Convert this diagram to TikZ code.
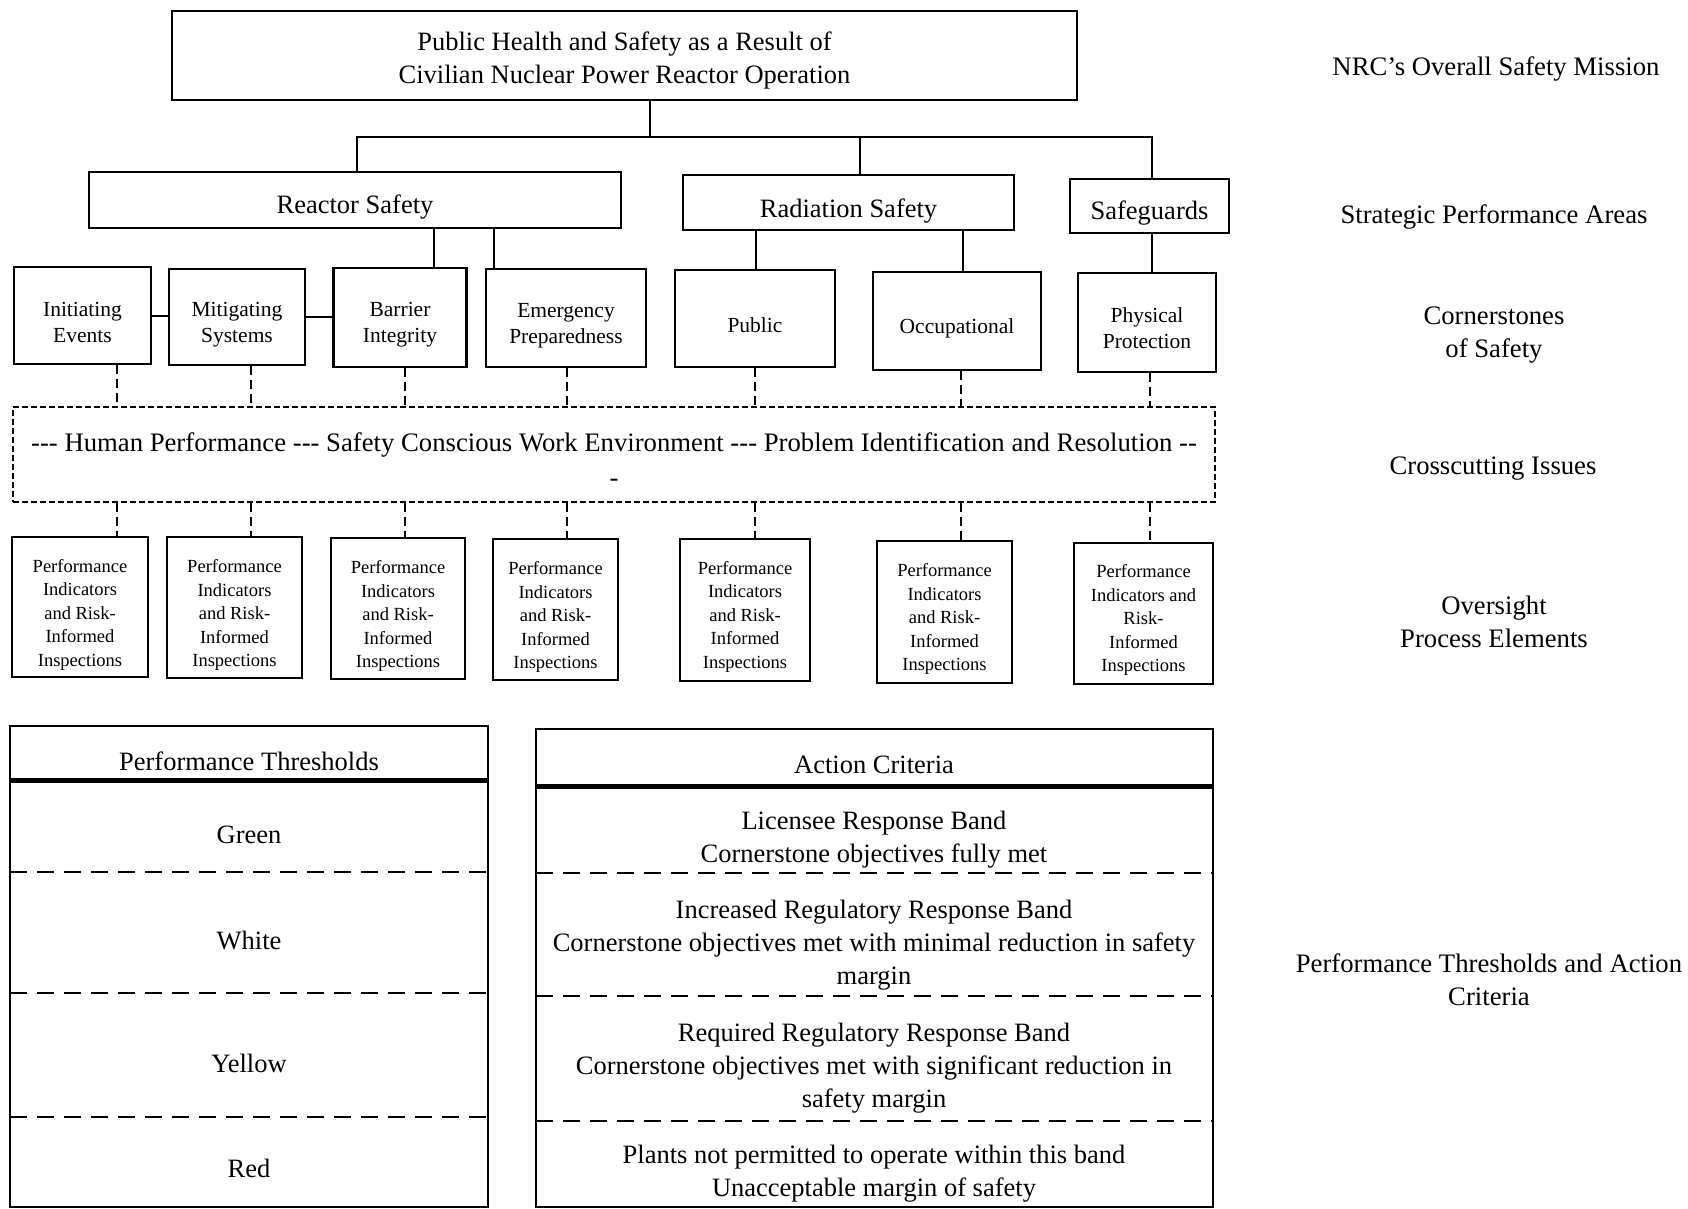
\documentclass[tikz,border=0pt]{standalone}
\usepackage{fontspec}
\setmainfont{Liberation Serif}
\newcommand{\fmain}{\fontsize{26.5pt}{33pt}\selectfont}
\newcommand{\flab}{\fontsize{26.7pt}{33pt}\selectfont}
\newcommand{\fcc}{\fontsize{26.7pt}{35pt}\selectfont}
\newcommand{\fcs}{\fontsize{21.5pt}{26pt}\selectfont}
\newcommand{\fpi}{\fontsize{18.5pt}{23.5pt}\selectfont}
\newcommand{\tdash}{-\kern0pt-\kern0pt-}
\newcommand{\ddash}{-\kern0pt-}
\begin{document}
\begin{tikzpicture}[x=1pt,y=-1pt,
  box/.style={draw, line width=2.7pt, inner sep=0pt},
  txt/.style={inner sep=0pt, align=center},
  conn/.style={line width=2pt},
  dconn/.style={line width=2pt, dash pattern=on 9pt off 5pt},
  dbox/.style={draw, line width=2.5pt, dash pattern=on 6pt off 3pt, inner sep=0pt},
  tbl/.style={draw, line width=2.7pt, inner sep=0pt},
  tdash/.style={line width=2.7pt, dash pattern=on 17pt off 10pt},
  hdr/.style={line width=5pt},
  lbl/.style={font=\flab, align=center, inner sep=0pt},
]
\useasboundingbox (0,0) rectangle (1688,1208);

% mission
\node[box, minimum width=905pt, minimum height=89pt] (top) at (624.5,55.5) {};
\node[txt, font=\fmain, yshift=-5pt] (topt) at (top)
  {Public Health and Safety as a Result of\\Civilian Nuclear Power Reactor Operation};

% strategic areas
\node[box, minimum width=532pt, minimum height=56pt] (rs) at (355,200) {};
\node[txt, font=\fmain, yshift=-7.5pt] (rst) at (rs) {Reactor Safety};
\node[box, minimum width=331pt, minimum height=55pt] (rad) at (848.5,202.5) {};
\node[txt, font=\fmain, yshift=-9pt] (radt) at (rad) {Radiation Safety};
\node[box, minimum width=159pt, minimum height=54pt] (sg) at (1149.5,206) {};
\node[txt, font=\fmain, yshift=-7.5pt] (sgt) at (sg) {Safeguards};

% cornerstones
\node[box, minimum width=137pt, minimum height=97pt] (ie) at (82.5,315.5) {};
\node[txt, font=\fcs, yshift=-6.5pt] (iet) at (ie) {Initiating\\Events};
\node[box, minimum width=136pt, minimum height=96pt] (ms) at (237,317) {};
\node[txt, font=\fcs, yshift=-7.5pt] (mst) at (ms) {Mitigating\\Systems};
\node[box, minimum width=133pt, minimum height=99pt] (bi) at (400,317.5) {};
\node[txt, font=\fcs, yshift=-7.5pt] (bit) at (bi) {Barrier\\Integrity};
\node[box, minimum width=160pt, minimum height=98pt] (ep) at (566,318) {};
\node[txt, font=\fcs, yshift=-7.5pt] (ept) at (ep) {Emergency\\Preparedness};
\node[box, minimum width=160pt, minimum height=97pt] (pu) at (755,318.5) {};
\node[txt, font=\fcs, yshift=-6.5pt] (put) at (pu) {Public};
\node[box, minimum width=168pt, minimum height=98pt] (oc) at (957,321) {};
\node[txt, font=\fcs, yshift=-7.5pt] (oct) at (oc) {Occupational};
\node[box, minimum width=138pt, minimum height=99pt] (pp) at (1147,322.5) {};
\node[txt, font=\fcs, yshift=-5.5pt] (ppt) at (pp) {Physical\\Protection};

% crosscutting
\node[dbox, minimum width=1202pt, minimum height=95pt] (cc) at (614,454.5) {};
\node[txt, font=\fcc, yshift=-5pt] (cct) at (cc)
  {\tdash{} Human Performance \tdash{} Safety Conscious Work Environment \tdash{} Problem Identification and Resolution \ddash\\-};

% oversight process elements
\node[box, minimum width=136pt, minimum height=140pt] (p1) at (80,607) {};
\node[box, minimum width=135pt, minimum height=141pt] (p2) at (234.5,607.5) {};
\node[box, minimum width=134pt, minimum height=141pt] (p3) at (398,608.5) {};
\node[box, minimum width=125pt, minimum height=141pt] (p4) at (555.5,609.5) {};
\node[box, minimum width=130pt, minimum height=142pt] (p5) at (745,610) {};
\node[box, minimum width=135pt, minimum height=142pt] (p6) at (944.5,612) {};
\node[box, minimum width=139pt, minimum height=141pt] (p7) at (1143.5,613.5) {};
\node[txt, font=\fpi, yshift=-7.5pt] (p1t) at (p1) {Performance\\Indicators\\and Risk-\\Informed\\Inspections};
\node[txt, font=\fpi, yshift=-7.5pt] (p2t) at (p2) {Performance\\Indicators\\and Risk-\\Informed\\Inspections};
\node[txt, font=\fpi, yshift=-7.5pt] (p3t) at (p3) {Performance\\Indicators\\and Risk-\\Informed\\Inspections};
\node[txt, font=\fpi, yshift=-7.5pt] (p4t) at (p4) {Performance\\Indicators\\and Risk-\\Informed\\Inspections};
\node[txt, font=\fpi, yshift=-6.5pt] (p5t) at (p5) {Performance\\Indicators\\and Risk-\\Informed\\Inspections};
\node[txt, font=\fpi, yshift=-7pt] (p6t) at (p6) {Performance\\Indicators\\and Risk-\\Informed\\Inspections};
\node[txt, font=\fpi, yshift=-6.5pt] (p7t) at (p7) {Performance\\Indicators and\\Risk-\\Informed\\Inspections};

% tree connectors
\coordinate (busM) at (650,137);
\coordinate (busL) at (357,137);
\coordinate (busC) at (860,137);
\coordinate (busR) at (1152,137);
\draw[conn] (top.south -| busM) -- (busM);
\draw[conn] (rs.north -| busL) -- (busL) -- (busR) -- (sg.north -| busR);
\draw[conn] (busC) -- (rad.north -| busC);

\coordinate (xbi) at (434,0);
\coordinate (xep) at (494,0);
\coordinate (xpu) at (756,0);
\coordinate (xoc) at (963,0);
\coordinate (xpp) at (1152,0);
\draw[conn] (rs.south -| xbi) -- (bi.north -| xbi);
\draw[conn] (rs.south -| xep) -- (ep.north -| xep);
\draw[conn] (rad.south -| xpu) -- (pu.north -| xpu);
\draw[conn] (rad.south -| xoc) -- (oc.north -| xoc);
\draw[conn] (sg.south -| xpp) -- (pp.north -| xpp);
\draw[conn] (ie.east) -- (ie.east -| ms.west);
\draw[conn] (ms.east) -- (ms.east -| bi.west);

% dashed connectors
\coordinate (d1) at (117,0);
\coordinate (d2) at (251,0);
\coordinate (d3) at (405,0);
\coordinate (d4) at (567,0);
\coordinate (d5) at (755,0);
\coordinate (d6) at (961,0);
\coordinate (d7) at (1150,0);
\draw[dconn] (ie.south -| d1) -- (cc.north -| d1);
\draw[dconn] (ms.south -| d2) -- (cc.north -| d2);
\draw[dconn] (bi.south -| d3) -- (cc.north -| d3);
\draw[dconn] (ep.south -| d4) -- (cc.north -| d4);
\draw[dconn] (pu.south -| d5) -- (cc.north -| d5);
\draw[dconn] (oc.south -| d6) -- (cc.north -| d6);
\draw[dconn] (pp.south -| d7) -- (cc.north -| d7);
\draw[dconn] (cc.south -| d1) -- (p1.north -| d1);
\draw[dconn] (cc.south -| d2) -- (p2.north -| d2);
\draw[dconn] (cc.south -| d3) -- (p3.north -| d3);
\draw[dconn] (cc.south -| d4) -- (p4.north -| d4);
\draw[dconn] (cc.south -| d5) -- (p5.north -| d5);
\draw[dconn] (cc.south -| d6) -- (p6.north -| d6);
\draw[dconn] (cc.south -| d7) -- (p7.north -| d7);

% performance thresholds table
\node[tbl, minimum width=478pt, minimum height=481pt] (lt) at (249,966.5) {};
\draw[hdr] (10,780) -- (488,780);
\draw[tdash] (10,872) -- (488,872);
\draw[tdash] (10,993) -- (488,993);
\draw[tdash] (10,1117) -- (488,1117);
\node[txt, font=\fmain] (lth) at (249,761) {Performance Thresholds};
\node[txt, font=\fmain] (lg) at (249,835) {Green};
\node[txt, font=\fmain] (lw) at (249,940) {White};
\node[txt, font=\fmain] (ly) at (249,1063) {Yellow};
\node[txt, font=\fmain] (lr) at (249,1168) {Red};

% action criteria table
\node[tbl, minimum width=677pt, minimum height=478pt] (rt) at (874.5,968) {};
\draw[hdr] (536,786) -- (1213,786);
\draw[tdash] (536,873) -- (1213,873);
\draw[tdash] (536,996) -- (1213,996);
\draw[tdash] (536,1121) -- (1213,1121);
\node[txt, font=\fmain] (rth) at (874,765) {Action Criteria};
\node[txt, font=\fmain] (r1) at (874,840) {Licensee Response Band\\Cornerstone objectives fully met};
\node[txt, font=\fmain] (r2) at (874,945.5) {Increased Regulatory Response Band\\Cornerstone objectives met with minimal reduction in safety\\margin};
\node[txt, font=\fmain] (r3) at (874,1068.5) {Required Regulatory Response Band\\Cornerstone objectives met with significant reduction in\\safety margin};
\node[txt, font=\fmain] (r4) at (874,1174) {Plants not permitted to operate within this band\\Unacceptable margin of safety};

% level labels
\node[lbl] (L1) at (1496,69) {NRC’s Overall Safety Mission};
\node[lbl] (L2) at (1494,217) {Strategic Performance Areas};
\node[lbl] (L3) at (1494,335) {Cornerstones\\of Safety};
\node[lbl] (L4) at (1493,469) {Crosscutting Issues};
\node[lbl] (L5) at (1494,622) {Oversight\\Process Elements};
\node[lbl] (L6) at (1489,980) {Performance Thresholds and Action\\Criteria};
\end{tikzpicture}
\end{document}
